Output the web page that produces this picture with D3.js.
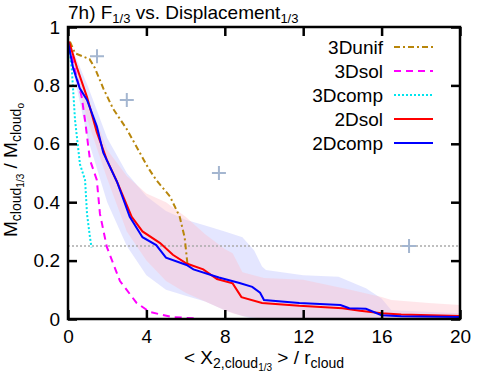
<!DOCTYPE html>
<html>
<head>
<meta charset="utf-8">
<script src="https://cdn.jsdelivr.net/npm/d3@7"></script>
<style>
  body { margin: 0; background: #fff; }
  text { font-family: "Liberation Sans", Arial, sans-serif; fill: #000; }
</style>
</head>
<body>
<div id="chart"></div>
<script>
/* DATA */
const xTicks = [0, 4, 8, 12, 16, 20];
const yTicks = [0, 0.2, 0.4, 0.6, 0.8, 1];

const unif3D = [[0.1,0.95],[0.36,0.91],[1.1,0.89],[1.37,0.86],[1.8,0.79],[2.3,0.72],[3.0,0.65],[3.66,0.57],[4.07,0.52],[4.5,0.476],[5.2,0.42],[5.7,0.35],[5.95,0.28],[6.1,0.185]];
const sol3D = [[0.05,0.94],[0.4,0.84],[0.7,0.76],[0.87,0.68],[1.12,0.545],[1.47,0.476],[1.63,0.36],[1.98,0.247],[2.65,0.13],[3.5,0.055],[4.17,0.024],[5.3,0.007],[6.5,0.002]];
const comp3D = [[0.05,0.94],[0.2,0.85],[0.36,0.68],[0.61,0.53],[0.87,0.476],[0.97,0.36],[1.12,0.28],[1.2,0.245]];
const sol2D = [[0.05,0.95],[0.1,0.94],[0.46,0.86],[0.97,0.76],[1.47,0.64],[1.98,0.545],[2.5,0.47],[3.25,0.35],[3.8,0.3],[4.7,0.26],[5.35,0.22],[6.05,0.19],[6.9,0.17],[7.6,0.137],[8.4,0.122],[8.85,0.075],[9.9,0.055],[11.8,0.045],[14.0,0.037],[14.9,0.028],[16.0,0.02],[17,0.015],[20,0.01]];
const comp2D = [[0.0,0.95],[0.26,0.86],[0.6,0.79],[0.97,0.75],[1.47,0.66],[1.8,0.57],[2.5,0.47],[3.15,0.35],[3.8,0.28],[4.5,0.253],[5.0,0.21],[6.05,0.185],[6.4,0.17],[7.7,0.142],[8.75,0.123],[9.4,0.11],[9.8,0.09],[10.0,0.065],[11.8,0.055],[13.9,0.048],[14.35,0.037],[15.2,0.035],[16.0,0.013],[17,0.009],[20,0.007]];

// spread bands: [x, lower, upper]
const comp2DBand = [[0,0.93,0.96],[1,0.62,0.80],[2,0.40,0.62],[3,0.25,0.50],[4,0.15,0.42],[5,0.10,0.37],[6,0.08,0.34],[7,0.06,0.32],[8,0.03,0.30],[8.9,0.01,0.28],[9.5,0.0,0.235],[9.9,0.0,0.18],[10.1,0.0,0.168],[12,0.0,0.15],[13.8,0.0,0.145],[15.2,0.0,0.105],[16,0.0,0.07],[16.5,0.0,0.03],[20,0.0,0.02]];
const sol2DBand = [[0,0.93,0.96],[1,0.68,0.76],[2,0.48,0.58],[3,0.30,0.49],[4,0.20,0.43],[5,0.13,0.40],[6,0.09,0.35],[7,0.06,0.29],[8,0.03,0.24],[8.4,0.02,0.225],[8.9,0.01,0.16],[10,0.0,0.14],[12,0.0,0.134],[14.4,0.0,0.10],[16,0.0,0.075],[16.5,0.0,0.065],[18.4,0.0,0.055],[20,0.0,0.048]];

const markers = [[1.48,0.9],[3.0,0.75],[7.7,0.5],[17.4,0.25]];
const refLevel = 0.25;

const series = [
  { name: "3Dunif", data: unif3D, color: "#b8860b", dash: "6,3,2,3" },
  { name: "3Dsol", data: sol3D, color: "#ff00ff", dash: "7,5" },
  { name: "3Dcomp", data: comp3D, color: "#00e5ee", dash: "2,2" },
  { name: "2Dsol", data: sol2D, color: "#ff0000", dash: null },
  { name: "2Dcomp", data: comp2D, color: "#0000ff", dash: null }
];

/* LAYOUT */
const width = 480, height = 375;
const margin = { top: 27, right: 20, bottom: 56, left: 68 };
const font = 19;

const svg = d3.select("#chart").append("svg")
  .attr("width", width).attr("height", height);

const xScale = d3.scaleLinear().domain([0, 20]).range([margin.left, width - margin.right]);
const yScale = d3.scaleLinear().domain([0, 1]).range([height - margin.bottom, margin.top]);

// bands
const area = d3.area()
  .x(d => xScale(d[0])).y0(d => yScale(d[1])).y1(d => yScale(d[2]));
svg.append("path").datum(comp2DBand).attr("d", area)
  .attr("fill", "rgb(195,200,255)").attr("opacity", 0.45);
svg.append("path").datum(sol2DBand).attr("d", area)
  .attr("fill", "rgb(255,190,200)").attr("opacity", 0.38);

// reference line
svg.append("line")
  .attr("x1", xScale(0)).attr("x2", xScale(20))
  .attr("y1", yScale(refLevel)).attr("y2", yScale(refLevel))
  .attr("stroke", "#aaa").attr("stroke-width", 1.5).attr("stroke-dasharray", "2,2");

// markers
const ms = 7;
svg.selectAll(".mk").data(markers).join("path")
  .attr("class", "mk")
  .attr("d", d => {
    const cx = xScale(d[0]), cy = yScale(d[1]);
    return `M${cx - ms},${cy}H${cx + ms}M${cx},${cy - ms}V${cy + ms}`;
  })
  .attr("stroke", "#a4b6d0").attr("stroke-width", 2);

// lines
const line = d3.line().x(d => xScale(d[0])).y(d => yScale(d[1]));
series.forEach(s => {
  svg.append("path").datum(s.data).attr("d", line)
    .attr("fill", "none").attr("stroke", s.color).attr("stroke-width", 2)
    .attr("stroke-dasharray", s.dash);
});

// axes (inward ticks, mirrored)
const tick = 9;
const xAxis = svg.append("g").attr("transform", `translate(0,${yScale(0)})`)
  .call(d3.axisBottom(xScale).tickValues(xTicks).tickSize(-tick).tickPadding(11));
const xTop = svg.append("g").attr("transform", `translate(0,${yScale(1)})`)
  .call(d3.axisTop(xScale).tickValues(xTicks).tickSize(-tick).tickFormat(""));
const yAxis = svg.append("g").attr("transform", `translate(${xScale(0)},0)`)
  .call(d3.axisLeft(yScale).tickValues(yTicks).tickSize(-tick).tickPadding(8).tickFormat(d3.format("")));
const yRight = svg.append("g").attr("transform", `translate(${xScale(20)},0)`)
  .call(d3.axisRight(yScale).tickValues(yTicks).tickSize(-tick).tickFormat(""));
[xAxis, xTop, yAxis, yRight].forEach(g => {
  g.select(".domain").remove();
  g.selectAll(".tick line").attr("stroke", "#000").attr("stroke-width", 2.5);
  g.selectAll("text").attr("font-size", font).attr("font-family", "Liberation Sans, Arial, sans-serif").attr("fill", "#000");
});
svg.append("rect")
  .attr("x", xScale(0)).attr("y", yScale(1))
  .attr("width", xScale(20) - xScale(0)).attr("height", yScale(0) - yScale(1))
  .attr("fill", "none").attr("stroke", "#000").attr("stroke-width", 2.5);

// title
const title = svg.append("text").attr("x", 68).attr("y", 19).attr("font-size", font);
title.append("tspan").text("7h) F");
title.append("tspan").attr("font-size", 13).attr("dy", 4).text("1/3");
title.append("tspan").attr("dy", -4).text(" vs. Displacement");
title.append("tspan").attr("font-size", 13).attr("dy", 4).text("1/3");

// x label
const xl = svg.append("text").attr("x", 264).attr("y", 364).attr("text-anchor", "middle").attr("font-size", font);
xl.append("tspan").text("< X");
xl.append("tspan").attr("font-size", 14).attr("dy", 4).text("2,cloud");
xl.append("tspan").attr("font-size", 10).attr("dy", 3).text("1/3");
xl.append("tspan").attr("dy", -7).text(" > / r");
xl.append("tspan").attr("font-size", 14).attr("dy", 4).text("cloud");

// y label
const yl = svg.append("text").attr("transform", "translate(17,170) rotate(-90)")
  .attr("text-anchor", "middle").attr("font-size", font);
yl.append("tspan").text("M");
yl.append("tspan").attr("font-size", 14).attr("dy", 4).text("cloud");
yl.append("tspan").attr("font-size", 10).attr("dy", 3).text("1/3");
yl.append("tspan").attr("dy", -7).text(" / M");
yl.append("tspan").attr("font-size", 14).attr("dy", 4).text("cloud");
yl.append("tspan").attr("font-size", 10).attr("dy", 3).text("o");

// legend
const legend = svg.append("g");
series.forEach((s, i) => {
  const y = 47 + i * 24;
  legend.append("text").attr("x", 383).attr("y", y + 7)
    .attr("text-anchor", "end").attr("font-size", font).text(s.name);
  legend.append("line").attr("x1", 394).attr("x2", 433).attr("y1", y).attr("y2", y)
    .attr("stroke", s.color).attr("stroke-width", 2).attr("stroke-dasharray", s.dash);
});
</script>
</body>
</html>
